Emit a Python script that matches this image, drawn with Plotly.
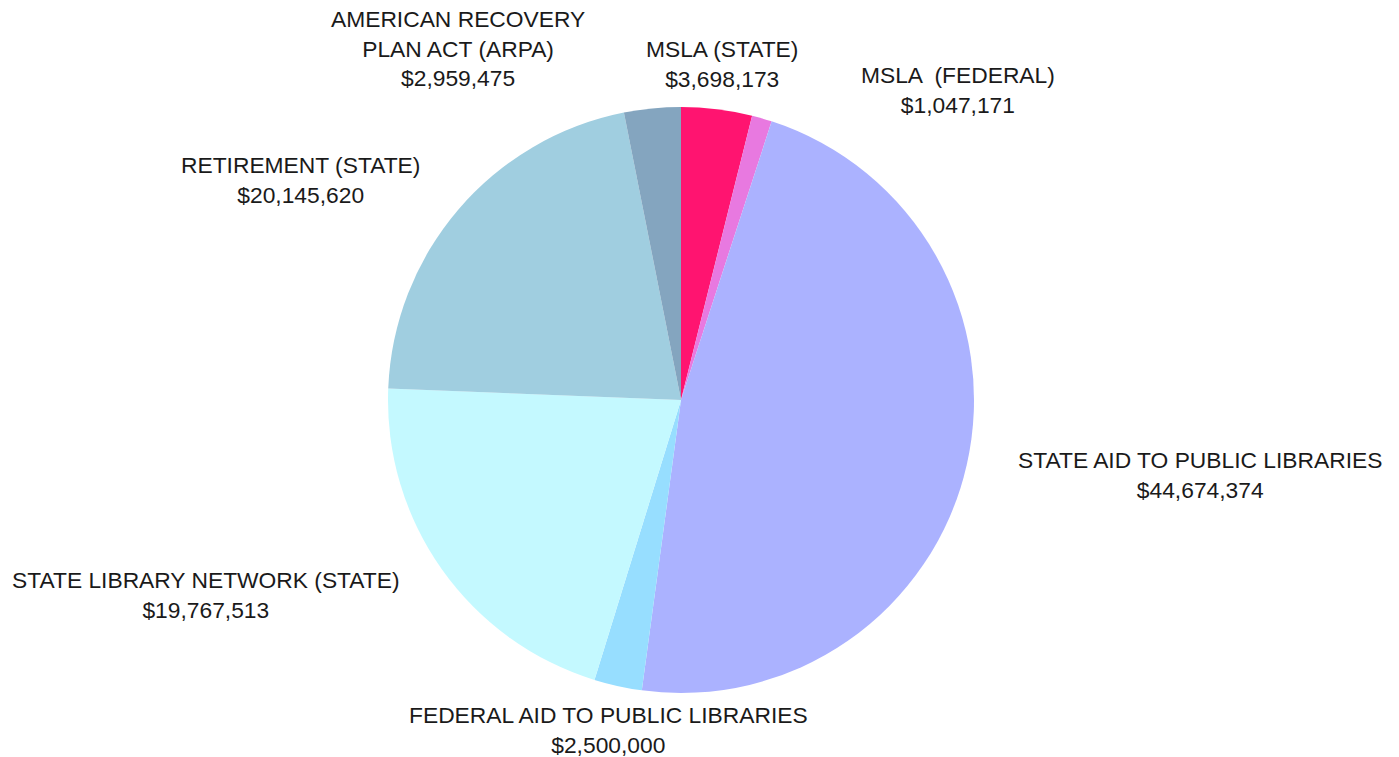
import plotly.graph_objects as go

labels = [
    "MSLA (STATE)",
    "MSLA  (FEDERAL)",
    "STATE AID TO PUBLIC LIBRARIES",
    "FEDERAL AID TO PUBLIC LIBRARIES",
    "STATE LIBRARY NETWORK (STATE)",
    "RETIREMENT (STATE)",
    "AMERICAN RECOVERY<br>PLAN ACT (ARPA)",
]
values = [3698173, 1047171, 44674374, 2500000, 19767513, 20145620, 2959475]
colors = ["#FF1470", "#E879E0", "#ABB2FF", "#97DEFF", "#C4F9FF", "#A0CEE0", "#84A5BF"]

# label block centres in pixels (layout only)
label_pos = [(722, 64), (958, 90), (1200, 475), (608, 730), (206, 595), (300, 180), (458, 48)]

W, H = 1399, 757
cx, cy, r = 681, 400, 293

fig = go.Figure(go.Pie(
    labels=labels,
    values=values,
    sort=False,
    direction="clockwise",
    rotation=0,
    marker=dict(colors=colors, line=dict(width=0)),
    textinfo="none",
    hoverinfo="label+value",
    showlegend=False,
    domain=dict(x=[(cx - r) / W, (cx + r) / W], y=[1 - (cy + r) / H, 1 - (cy - r) / H]),
))

annotations = []
for lab, val, (px, py) in zip(labels, values, label_pos):
    annotations.append(dict(
        text=f"{lab}<br>${val:,}",
        x=px / W, y=1 - py / H, xref="paper", yref="paper",
        xanchor="center", yanchor="middle", showarrow=False,
        font=dict(family="Liberation Sans, Arial, sans-serif", size=22.8, color="#1a1a1a"),
        align="center",
    ))

fig.update_layout(
    width=W, height=H,
    margin=dict(l=0, r=0, t=0, b=0),
    paper_bgcolor="white", plot_bgcolor="white",
    annotations=annotations,
)

fig.write_html(
    "out.html",
    config={"displayModeBar": False},
    post_script="document.body.style.margin='0';document.body.style.overflow='hidden';",
)
